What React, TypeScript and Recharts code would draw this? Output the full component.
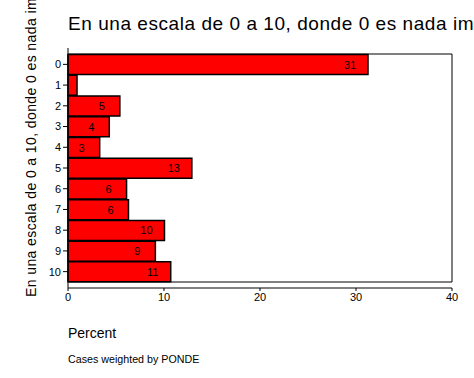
import { BarChart, Bar, XAxis, YAxis, LabelList, ReferenceArea } from 'recharts';

const categories = ['0', '1', '2', '3', '4', '5', '6', '7', '8', '9', '10'];
const percents = [31.25, 0.94, 5.4, 4.3, 3.3, 12.9, 6.1, 6.3, 10.05, 9.1, 10.7];
const barLabels = ['31', '', '5', '4', '3', '13', '6', '6', '10', '9', '11'];
const percentTicks = [0, 10, 20, 30, 40];

const title = 'En una escala de 0 a 10, donde 0 es nada importante y 10 es muy importante';
const font = "Arial, 'Liberation Sans', sans-serif";

const chartData = categories.map((cat, i) => ({
  cat,
  pct: percents[i],
  label: barLabels[i],
}));

function BarValue(props: any) {
  const { x, y, width, height, value } = props;
  if (!value) return null;
  return (
    <text
      x={Number(x) + Number(width) - 18}
      y={Number(y) + Number(height) / 2}
      textAnchor="middle"
      dominantBaseline="central"
      fontSize={11}
      fontFamily={font}
      fill="#000"
    >
      {value}
    </text>
  );
}

export default function App() {
  return (
    <div style={{ position: 'absolute', left: 0, top: 0, width: 474, height: 378, background: '#fff', overflow: 'hidden' }}>
      <BarChart
        width={474}
        height={378}
        data={chartData}
        layout="vertical"
        margin={{ top: 48, left: 38, right: 22, bottom: 70 }}
        barCategoryGap={0.6}
      >
        <XAxis
          type="number"
          dataKey="pct"
          domain={[0, 40]}
          ticks={percentTicks}
          interval={0}
          height={20}
          stroke="#000"
          tickSize={3}
          tick={{ fontSize: 11, fill: '#000', fontFamily: font }}
        />
        <YAxis
          type="category"
          dataKey="cat"
          width={30}
          padding={{ top: 6, bottom: 6 }}
          stroke="#000"
          tickSize={5}
          interval={0}
          tick={{ fontSize: 11, fill: '#000', fontFamily: font }}
        />
        <ReferenceArea x1={0} x2={40} fill="none" fillOpacity={0} stroke="#000" strokeWidth={1} ifOverflow="visible" />
        <Bar dataKey="pct" fill="#ff0000" stroke="#000" strokeWidth={1.5} isAnimationActive={false}>
          <LabelList dataKey="label" content={BarValue} />
        </Bar>
      </BarChart>
      <svg width={474} height={378} style={{ position: 'absolute', left: 0, top: 0, pointerEvents: 'none' }}>
        <text x={68} y={30} fontSize={19} letterSpacing={0.55} fontFamily={font} fill="#000">
          {title}
        </text>
        <text
          x={36}
          y={297}
          transform="rotate(-90 36 297)"
          fontSize={14}
          letterSpacing={0.4}
          fontFamily={font}
          fill="#000"
        >
          {title}
        </text>
        <text x={68} y={338} fontSize={14} fontFamily={font} fill="#000">
          Percent
        </text>
        <text x={68} y={363} fontSize={10.7} fontFamily={font} fill="#000">
          Cases weighted by PONDE
        </text>
      </svg>
    </div>
  );
}
